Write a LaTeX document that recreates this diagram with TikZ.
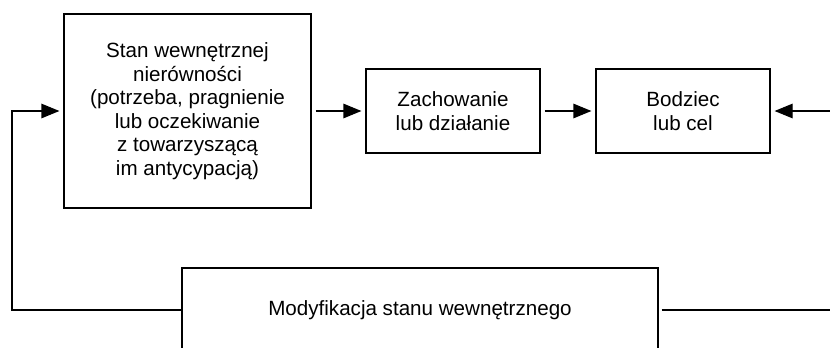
\documentclass[tikz,border=0pt]{standalone}
\usepackage{fontspec}
\setmainfont{Liberation Sans}
\usetikzlibrary{arrows.meta}
\begin{document}
\begin{tikzpicture}[x=1pt,y=-1pt,
  box/.style={draw,line width=1.2pt,rectangle,align=center,inner sep=0pt,
    font=\fontsize{20.6}{23.5}\selectfont},
  conn/.style={line width=1.2pt},
  arr/.style={line width=1.2pt,-{Triangle[length=18pt,width=14.5pt]},shorten >=4pt}]
\clip (0,0) rectangle (830,348);
\useasboundingbox (0,0) rectangle (830,348);
\node[box,minimum width=247pt,minimum height=194pt] (b1) at (187.5,111)
  {Stan wewnętrznej\\nierówności\\(potrzeba, pragnienie\\lub oczekiwanie\\z towarzyszącą\\im antycypacją)};
\node[box,minimum width=174pt,minimum height=84pt] (b2) at (453,111)
  {Zachowanie\\lub działanie};
\node[box,minimum width=174pt,minimum height=84pt] (b3) at (683,111)
  {Bodziec\\lub cel};
\node[box,minimum width=476pt,minimum height=84pt] (b4) at (420,310)
  {Modyfikacja stanu wewnętrznego};
\coordinate (lc) at (12,310);
\coordinate (rb) at (831,310);
\coordinate (rt) at (831,111);
\draw[arr,shorten <=4pt] (b1.east) -- (b2.west);
\draw[arr,shorten <=4pt] (b2.east) -- (b3.west);
\draw[arr] (rt) -- (b3.east);
\draw[conn] (b4.east) ++(3,0) -- (rb);
\draw[arr] (b4.west) -- (lc) |- (b1.west);
\end{tikzpicture}
\end{document}
